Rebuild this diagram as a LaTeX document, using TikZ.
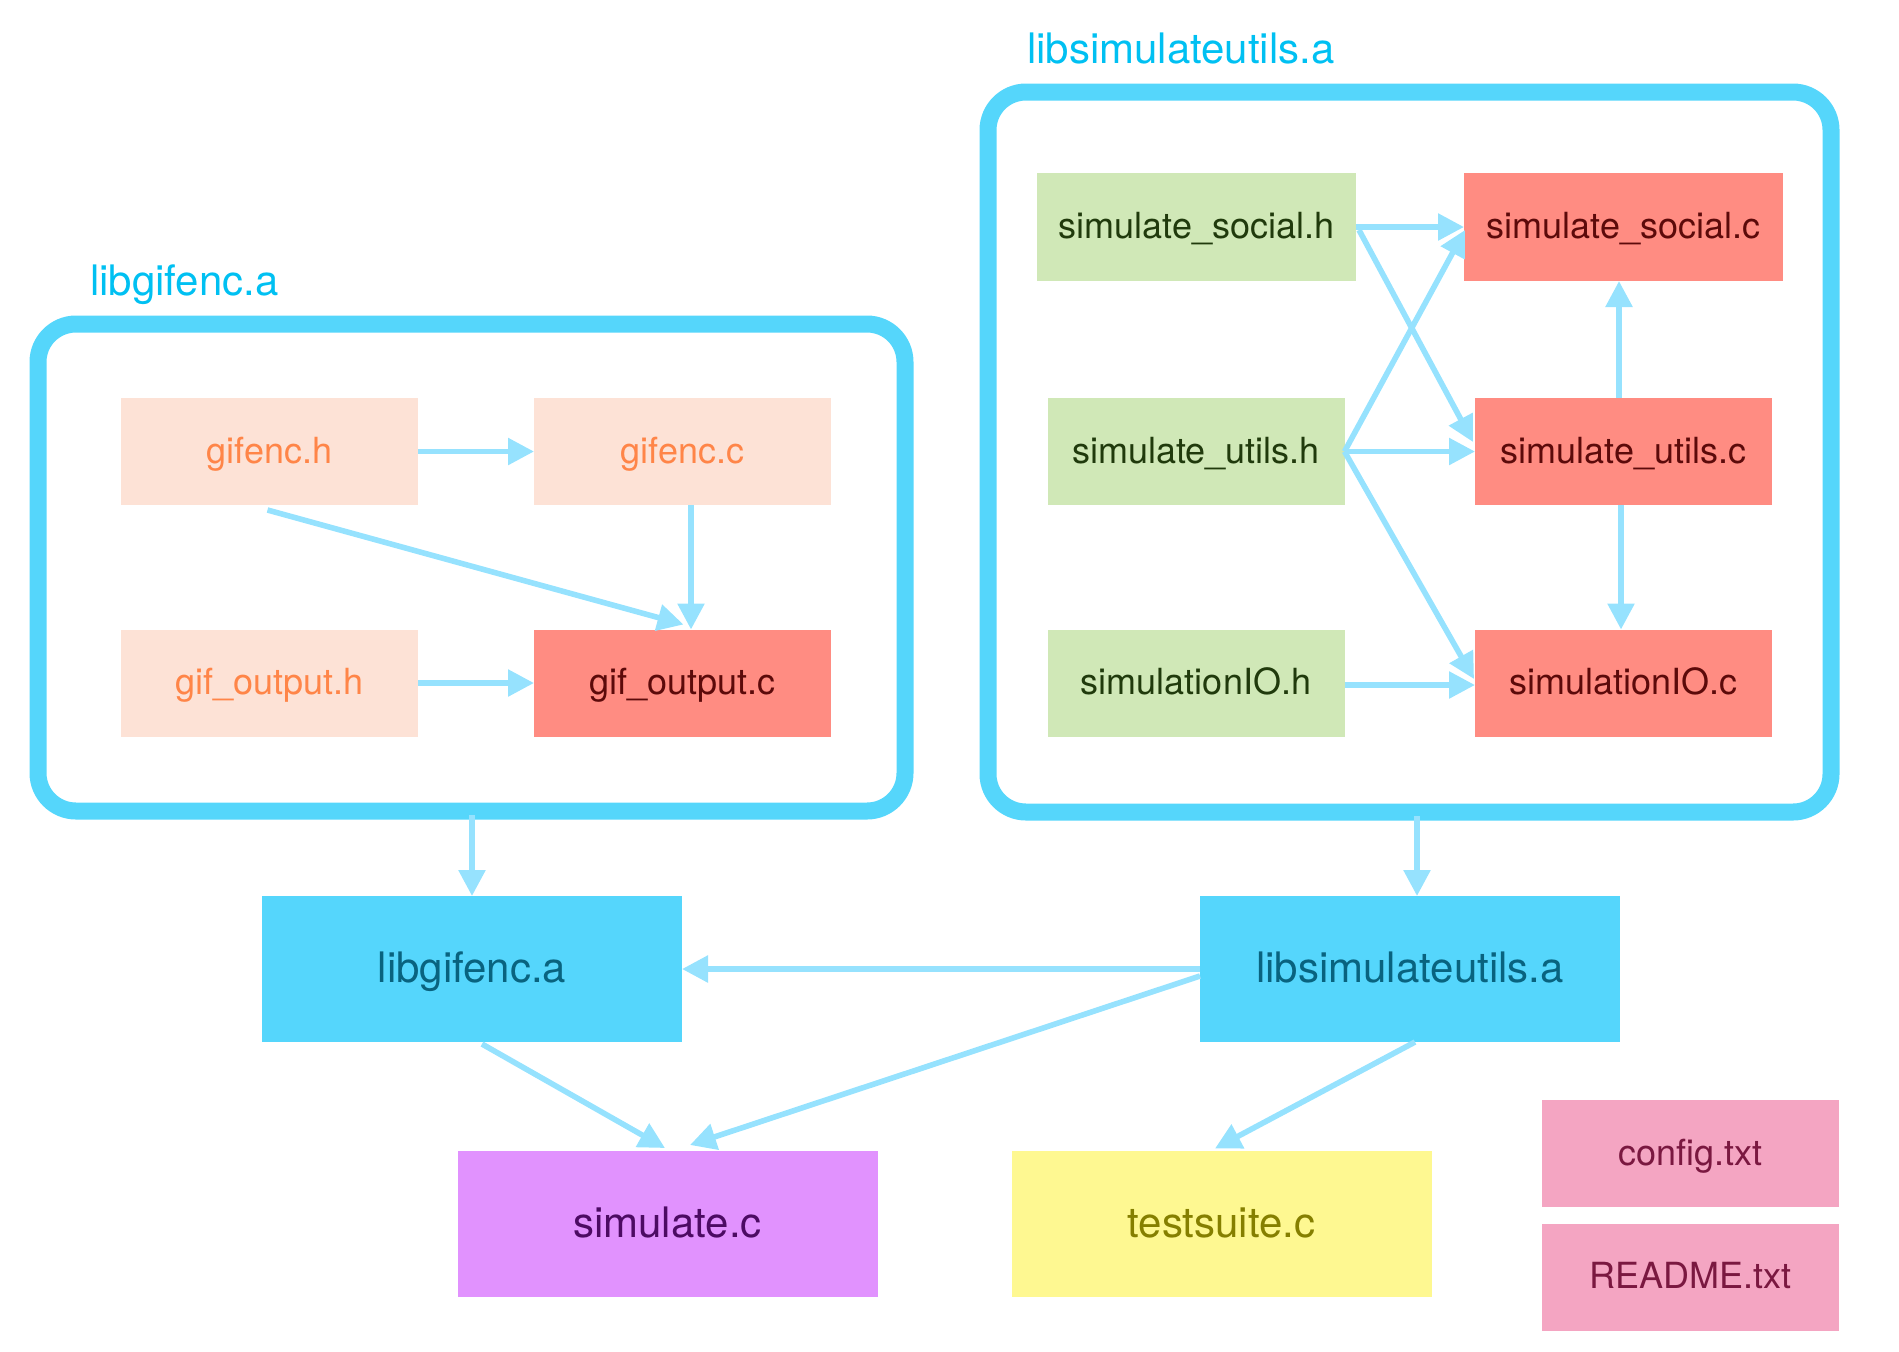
\documentclass[tikz,border=0pt]{standalone}
\usepackage{fontspec}
\setmainfont{TeX Gyre Heros}
\usetikzlibrary{arrows.meta,calc}
\definecolor{clusterline}{HTML}{55D6FB}
\definecolor{clabelcol}{HTML}{00C0F2}
\definecolor{edgecol}{HTML}{96E2FE}
\definecolor{peachfill}{HTML}{FDE2D6}
\definecolor{peachtext}{HTML}{FF8548}
\definecolor{salmonfill}{HTML}{FF8C82}
\definecolor{salmontext}{HTML}{5C0A0A}
\definecolor{greenfill}{HTML}{D0E8B7}
\definecolor{greentext}{HTML}{203A0C}
\definecolor{libfill}{HTML}{55D6FC}
\definecolor{libtext}{HTML}{09637F}
\definecolor{simfill}{HTML}{E192FE}
\definecolor{simtext}{HTML}{4C0B63}
\definecolor{tsfill}{HTML}{FEF891}
\definecolor{tstext}{HTML}{857F00}
\definecolor{pinkfill}{HTML}{F4A5C2}
\definecolor{pinktext}{HTML}{7A1840}
\begin{document}
\begin{tikzpicture}[x=0.5pt,y=-0.5pt,
  file/.style={inner sep=0pt, outer sep=0pt, minimum width=148.5pt, minimum height=53.5pt,
    font=\fontsize{18}{21}\selectfont, text height=13.5pt, text depth=1.6pt},
  hfile/.style={file, fill=peachfill, text=peachtext},
  cfile/.style={file, fill=salmonfill, text=salmontext},
  gfile/.style={file, fill=greenfill, text=greentext},
  bigfile/.style={inner sep=0pt, outer sep=0pt, minimum width=210pt, minimum height=73pt,
    font=\fontsize{21}{25}\selectfont, text height=15.75pt, text depth=1.9pt},
  clabel/.style={inner sep=0pt, outer sep=0pt, font=\fontsize{21}{25}\selectfont, text=clabelcol},
  cluster/.style={draw=clusterline, line width=8.5pt, rounded corners=19pt},
  dep/.style={draw=edgecol, line width=2.8pt, -{Triangle[length=13pt,width=13pt]}},
]
\useasboundingbox (0,0) rectangle (1899,1351);
% clusters
\draw[cluster] (38,324) rectangle (905,811);
\draw[cluster] (988,92) rectangle (1831,812);
\node[clabel, anchor=base west] (l1) at (90,295) {libgifenc.a};
\node[clabel, anchor=base west] (l2) at (1027,63) {libsimulateutils.a};
\coordinate (c1b) at (472,815);
\coordinate (c2b) at (1417,816);
% left cluster nodes
\node[hfile] (gh) at (269.5,451.5) {gifenc.h};
\node[hfile] (gc) at (682.5,451.5) {gifenc.c};
\node[hfile] (goh) at (269.5,683) {gif\_output.h};
\node[cfile] (goc) at (682.5,683) {gif\_output.c};
% right cluster nodes
\node[gfile, minimum width=159.5pt, minimum height=54pt] (ssh) at (1196.5,227) {simulate\_social.h};
\node[cfile, minimum width=159.5pt, minimum height=54pt] (ssc) at (1623.5,227) {simulate\_social.c};
\node[gfile] (suh) at (1196,451.5) {simulate\_utils.h};
\node[cfile] (suc) at (1623.5,451.5) {simulate\_utils.c};
\node[gfile] (sioh) at (1196,683) {simulationIO.h};
\node[cfile] (sioc) at (1623.5,683) {simulationIO.c};
% bottom nodes
\node[bigfile, fill=libfill, text=libtext] (lg) at (472,969) {libgifenc.a};
\node[bigfile, fill=libfill, text=libtext] (lsu) at (1410,969) {libsimulateutils.a};
\node[bigfile, fill=simfill, text=simtext] (sim) at (667.5,1224) {simulate.c};
\node[bigfile, fill=tsfill, text=tstext] (ts) at (1221.5,1224) {testsuite.c};
\node[file, fill=pinkfill, text=pinktext] (cfg) at (1690.5,1153.5) {config.txt};
\node[file, fill=pinkfill, text=pinktext] (rd) at (1690.5,1277) {README.txt};
% left cluster edges
\draw[dep] (gh.east) -- (gc.west);
\draw[dep] ($(gh.south)+(-2,5)$) -- ($(goc.north)+(1,-5)$);
\draw[dep] ($(gc.south)+(8.5,0)$) -- ($(goc.north)+(8.5,0)$);
\draw[dep] (goh.east) -- (goc.west);
% right cluster edges
\draw[dep] (ssh.east) -- (ssc.west);
\draw[dep] ($(ssh.east)+(3,3)$) -- ($(suc.west)+(-2,-9.5)$);
\draw[dep] (suh.east) -- ($(ssc.west)+(1,3)$);
\draw[dep] (suh.east) -- (suc.west);
\draw[dep] (suh.east) -- ($(sioc.west)+(-1,-4)$);
\draw[dep] ($(sioh.east)+(0,2)$) -- ($(sioc.west)+(0,2)$);
\draw[dep] ($(suc.north)+(-4.5,0)$) -- ($(ssc.south)+(-4.5,0)$);
\draw[dep] ($(suc.south)+(-2.5,0)$) -- ($(sioc.north)+(-2.5,0)$);
% cluster to library edges
\draw[dep] (c1b) -- (c1b |- lg.north);
\draw[dep] (c2b) -- (c2b |- lsu.north);
% bottom edges
\draw[dep] (lsu.west) -- (lg.east);
\draw[dep] ($(lsu.west)+(0,7)$) -- ($(sim.north)+(22.5,-6)$);
\draw[dep] ($(lg.south)+(10,2)$) -- ($(sim.north)+(-2.5,-3)$);
\draw[dep] ($(lsu.south)+(5,0)$) -- ($(ts.north)+(-6.5,-2.5)$);
\end{tikzpicture}
\end{document}
